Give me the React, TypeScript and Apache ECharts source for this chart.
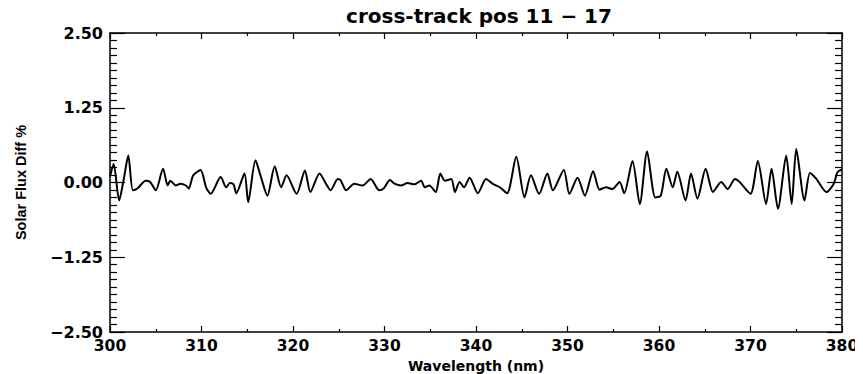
import React, { useEffect, useRef } from "react";
import * as echarts from "echarts";

const titleText = "cross-track pos 11 \u2212 17";
const xName = "Wavelength (nm)";
const yName = "Solar Flux Diff %";

const wavelength = [
  300.0, 300.4, 301.0, 301.5, 302.0, 302.5, 303.0, 303.9, 304.4, 305.0,
  305.8, 306.3, 306.6, 307.2, 307.7, 308.3, 308.6, 309.1, 309.9, 310.5,
  311.0, 312.1, 312.7, 313.1, 313.5, 313.8, 314.7, 315.1, 315.9, 316.5,
  317.2, 318.0, 318.7, 319.3, 320.4, 321.3, 321.9, 322.9, 323.6, 324.1,
  324.9, 325.2, 325.8, 326.7, 327.6, 328.5, 329.4, 329.9, 330.6, 331.1,
  331.8, 332.5, 333.3, 334.0, 334.4, 334.9, 335.6, 336.1, 336.6, 337.3,
  337.7, 338.2, 338.7, 339.3, 340.2, 341.1, 341.8, 342.6, 343.4, 344.4,
  345.3, 346.0, 346.9, 347.8, 348.4, 349.6, 350.2, 351.1, 351.9, 352.8,
  353.5, 354.2, 354.9, 355.7, 356.2, 357.1, 357.9, 358.7, 359.6, 360.2,
  360.8, 361.5, 362.0, 362.9, 363.5, 364.2, 365.1, 365.9, 366.8, 367.5,
  368.3, 368.8, 370.0, 370.8, 371.7, 372.3, 373.0, 373.9, 374.5, 375.0,
  375.9, 376.5, 377.2, 378.3, 379.1, 379.5, 380.0
];

const fluxDiff = [
  0.10, 0.31, -0.30, 0.05, 0.45, -0.13, -0.10, 0.03, 0.01, -0.13,
  0.23, -0.05, 0.03, -0.05, -0.02, -0.05, -0.10, 0.12, 0.21, -0.08,
  -0.19, 0.09, -0.08, -0.01, -0.03, -0.18, 0.15, -0.33, 0.37, 0.09,
  -0.22, 0.27, -0.08, 0.12, -0.19, 0.20, -0.16, 0.15, -0.02, -0.13,
  0.06, 0.04, -0.13, -0.02, -0.05, 0.06, -0.13, -0.10, 0.04, -0.02,
  -0.05, -0.01, -0.03, 0.03, -0.08, -0.05, -0.16, 0.15, 0.03, 0.06,
  -0.16, 0.01, -0.08, 0.08, -0.18, 0.06, -0.02, -0.08, -0.18, 0.43,
  -0.25, 0.12, -0.19, 0.15, -0.13, 0.21, -0.19, 0.08, -0.22, 0.19,
  -0.12, -0.08, -0.11, 0.01, -0.18, 0.36, -0.36, 0.52, -0.25, -0.22,
  0.23, -0.08, 0.18, -0.30, 0.15, -0.27, 0.23, -0.16, 0.01, -0.11,
  0.06, 0.01, -0.19, 0.36, -0.36, 0.23, -0.44, 0.45, -0.36, 0.56,
  -0.30, 0.16, 0.06, -0.16, -0.02, 0.17, 0.22
];

const xMin = 300;
const xMax = 380;
const xStep = 10;
const yMin = -2.5;
const yMax = 2.5;
const yStep = 1.25;

const wideFont = "'DejaVu Sans', Verdana, sans-serif";
const narrowFont = "'Liberation Sans', Arial, Helvetica, sans-serif";

const fmtY = (v: number) => (v < 0 ? "\u2212" : "") + Math.abs(v).toFixed(2);

export default function App() {
  const ref = useRef<HTMLDivElement>(null);
  useEffect(() => {
    if (!ref.current) return;
    const chart = echarts.init(ref.current, null, { renderer: "svg" });
    const axisLine = { show: true, onZero: false, lineStyle: { color: "#000", width: 1.5 } };
    const xCommon = {
      type: "value" as const,
      min: xMin,
      max: xMax,
      interval: xStep,
      axisLine,
      axisTick: { show: true, inside: true, length: 6, lineStyle: { color: "#000", width: 1.2 } },
      minorTick: { show: true, splitNumber: 2, length: 3, lineStyle: { color: "#000", width: 1.2 } },
      splitLine: { show: false },
    };
    const yCommon = {
      type: "value" as const,
      min: yMin,
      max: yMax,
      interval: yStep,
      axisLine,
      axisTick: { show: true, inside: true, length: 15, lineStyle: { color: "#000", width: 1.2 } },
      minorTick: { show: true, splitNumber: 10, length: 7, lineStyle: { color: "#000", width: 1.2 } },
      splitLine: { show: false },
    };
    chart.setOption({
      animation: false,
      backgroundColor: "#fff",
      title: {
        text: titleText,
        left: 474,
        textAlign: "center",
        top: 1,
        textStyle: { fontFamily: wideFont, fontSize: 20, fontWeight: "bold", color: "#000" },
      },
      grid: { left: 110, right: 21, top: 33, bottom: 42, containLabel: false, outerBoundsMode: "none" },
      xAxis: [
        {
          ...xCommon,
          position: "bottom",
          name: xName,
          nameLocation: "middle",
          nameGap: 21,
          nameTextStyle: { fontFamily: wideFont, fontSize: 14, fontWeight: "bold", color: "#000" },
          axisLabel: { show: true, margin: 6, fontFamily: wideFont, fontSize: 15.5, fontWeight: "bold", color: "#000" },
        },
        { ...xCommon, position: "top", axisLabel: { show: false } },
      ],
      yAxis: [
        {
          ...yCommon,
          position: "left",
          name: yName,
          nameLocation: "middle",
          nameRotate: 90,
          nameGap: 82,
          nameTextStyle: { fontFamily: narrowFont, fontSize: 14.5, fontWeight: "bold", color: "#000" },
          axisLabel: {
            show: true,
            margin: 7,
            fontFamily: wideFont,
            fontSize: 16,
            fontWeight: "bold",
            color: "#000",
            formatter: fmtY,
          },
        },
        { ...yCommon, position: "right", axisLabel: { show: false } },
      ],
      series: [
        {
          type: "line",
          xAxisIndex: 0,
          yAxisIndex: 0,
          data: wavelength.map((w, i) => [w, fluxDiff[i]]),
          showSymbol: false,
          smooth: 0.25,
          lineStyle: { color: "#000", width: 2 },
        },
      ],
    });
    return () => chart.dispose();
  }, []);
  return <div ref={ref} style={{ width: 863, height: 374, margin: "-8px 0 0 -8px" }} />;
}
